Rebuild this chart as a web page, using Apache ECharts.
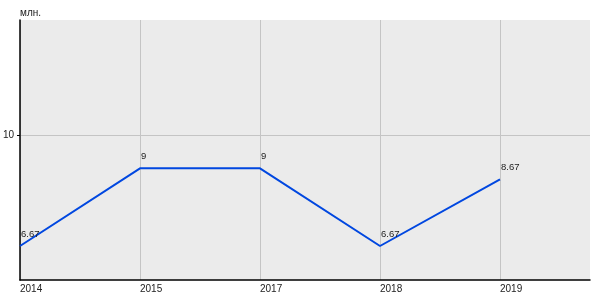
<!DOCTYPE html>
<html><head><meta charset="utf-8">
<script src="https://cdn.jsdelivr.net/npm/echarts@6/dist/echarts.min.js"></script>
<style>html,body{margin:0;padding:0;background:#fff}#c{width:600px;height:300px}</style>
</head><body><div id="c"></div>
<script>
const categories = ['2014', '2015', '2017', '2018', '2019'];
const values = [6.67, 9, 9, 6.67, 8.67];
const yTicks = [10];
const unitName = 'млн.';

const idx = categories.map((_, i) => i);
const chart = echarts.init(document.getElementById('c'), null, {renderer: 'canvas'});
const font = 'Liberation Sans, Arial, sans-serif';
chart.setOption({
  animation: false,
  grid: {left: 20, right: 10, top: 20, bottom: 20, show: true, backgroundColor: '#ebebeb', borderWidth: 0,
    containLabel: false, outerBoundsMode: 'none'},
  xAxis: {
    type: 'value', min: 0, max: 4.75,
    axisLine: {show: true, lineStyle: {color: '#000', width: 1.5}},
    axisTick: {show: false, customValues: idx},
    axisLabel: {customValues: idx, align: 'left', margin: 4, fontSize: 10, color: '#222', fontFamily: font,
      formatter: v => categories[Math.round(v)] ?? ''},
    splitLine: {show: true, lineStyle: {color: '#c4c4c4', width: 1}}
  },
  yAxis: {
    type: 'value', min: 5.65, max: 13.45,
    name: unitName, nameLocation: 'end', nameGap: 2,
    nameTextStyle: {align: 'left', fontSize: 10, color: '#222', fontFamily: font},
    axisLine: {show: true, lineStyle: {color: '#000', width: 1.5}},
    axisTick: {show: true, length: 3, customValues: yTicks, lineStyle: {color: '#000', width: 1}},
    axisLabel: {customValues: yTicks, margin: 6, fontSize: 10, color: '#222', fontFamily: font},
    splitLine: {show: true, lineStyle: {color: '#c4c4c4', width: 1}}
  },
  series: [{
    type: 'line',
    data: idx.map(i => [i, values[i]]),
    showSymbol: true, symbol: 'circle', symbolSize: 2,
    itemStyle: {color: 'rgba(0,0,0,0)', borderWidth: 0},
    lineStyle: {color: '#0047e0', width: 2},
    label: {show: true, position: 'top', align: 'left', distance: 6, offset: [1, 0], fontSize: 9.5, color: '#222', fontFamily: font,
      formatter: p => String(p.value[1])}
  }]
});
</script></body></html>
